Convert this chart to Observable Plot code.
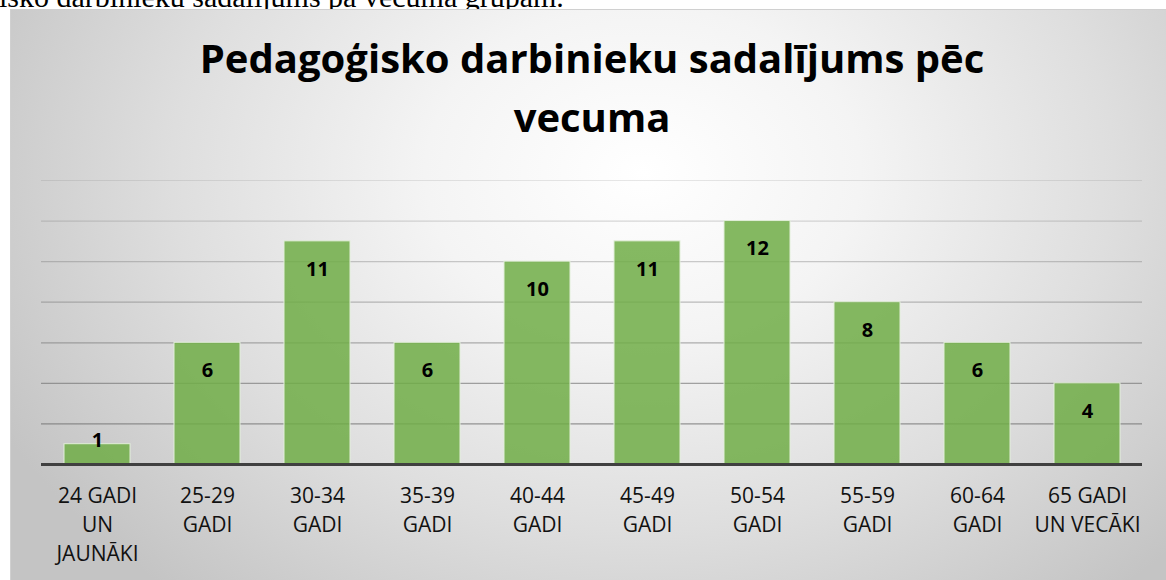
<!DOCTYPE html>
<html>
<head>
<meta charset="utf-8">
<script src="https://cdn.jsdelivr.net/npm/d3@7"></script>
<script src="https://cdn.jsdelivr.net/npm/@observablehq/plot@0.6"></script>
<style>
  html, body { margin: 0; padding: 0; background: #fff; }
  #page { position: relative; width: 1166px; height: 580px; overflow: hidden; }
  #doc { position: absolute; left: -1px; top: -18px; font-family: "Liberation Serif", serif; font-size: 30px; line-height: 30px; color: #000; white-space: nowrap; }
  #box { position: absolute; left: 10px; top: 9px; width: 1170px; height: 580px;
         border-left: 1px solid #d0d0d0; border-top: 1px solid #d0d0d0;
         background: radial-gradient(ellipse 62% 95% at 54% 28%, #ffffff 0%, #f4f4f4 30%, #dedede 65%, #c4c4c4 100%); }
  .title { position: absolute; left: 0; width: 1184px; text-align: center; font-family: "Open Sans", sans-serif; font-weight: 700; font-size: 40px; line-height: 40px; color: #000; white-space: nowrap; }
  #chart { position: absolute; left: 0; top: 160px; }
</style>
</head>
<body>
<div id="page">
  <div id="doc">isko darbinieku sadalījums pa vecuma grupām.</div>
  <div id="box"></div>
  <div class="title" id="t1" style="top:38px;">Pedagoģisko darbinieku sadalījums pēc</div>
  <div class="title" id="t2" style="top:97px;">vecuma</div>
  <div id="chart"></div>
</div>
<script>
const categories = ["24 GADI\nUN\nJAUNĀKI", "25-29\nGADI", "30-34\nGADI", "35-39\nGADI", "40-44\nGADI", "45-49\nGADI", "50-54\nGADI", "55-59\nGADI", "60-64\nGADI", "65 GADI\nUN VECĀKI"];
const values = [1, 6, 11, 6, 10, 11, 12, 8, 6, 4];
const gridTicks = [2, 4, 6, 8, 10, 12, 14];

const data = categories.map((c, i) => ({cat: c, value: values[i]}));

const chart = Plot.plot({
  width: 1166,
  height: 420,
  marginLeft: 41,
  marginRight: 24,
  marginTop: 20,
  marginBottom: 116,
  style: {background: "transparent", overflow: "visible"},
  x: {domain: categories, paddingInner: 0.4, paddingOuter: 0.2, label: null},
  y: {domain: [0, 14], label: null, axis: null},
  marks: [
    Plot.ruleY(gridTicks, {stroke: "#707070", strokeOpacity: d => 0.8 - d * 0.045, strokeWidth: 1.2}),
    Plot.barY(data, {x: "cat", y: "value", fill: "#70ad47", fillOpacity: 0.85, stroke: "#e2efd9", strokeWidth: 1}),
    Plot.ruleY([0], {stroke: "#404040", strokeWidth: 3}),
    Plot.text(data.filter(d => d.value >= 2), {x: "cat", y: "value", text: d => String(d.value), dy: 28, fontWeight: "bold", fontSize: 20, fontFamily: "Open Sans", fill: "#000"}),
    Plot.text(data.filter(d => d.value < 2), {x: "cat", y: "value", text: d => String(d.value), dy: -4, fontWeight: "bold", fontSize: 20, fontFamily: "Open Sans", fill: "#000"}),
    Plot.axisX({tickSize: 0, tickPadding: 18, fontSize: 21, fontFamily: "Open Sans", lineHeight: 1.38, fill: "#111", tickFormat: d => d})
  ]
});
document.getElementById("chart").appendChild(chart);
</script>
</body>
</html>
